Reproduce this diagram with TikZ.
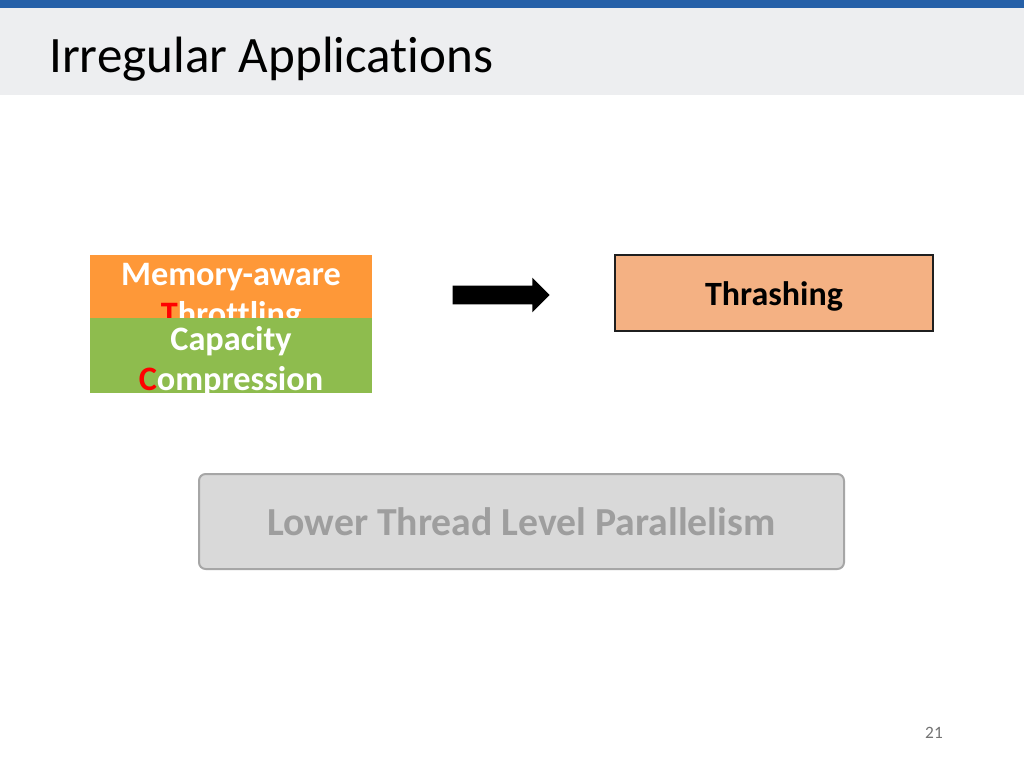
\documentclass[tikz,border=0pt]{standalone}
\usepackage{fontspec}
\setmainfont[Ligatures=NoCommon]{Carlito}
\usetikzlibrary{shapes.arrows}

\definecolor{barblue}{RGB}{37,96,168}
\definecolor{headgray}{RGB}{237,238,240}
\definecolor{memorange}{RGB}{254,152,56}
\definecolor{capgreen}{RGB}{142,188,78}
\definecolor{thrashfill}{RGB}{244,177,131}
\definecolor{tlpfill}{RGB}{217,217,217}
\definecolor{tlpline}{RGB}{166,166,166}
\definecolor{tlptext}{RGB}{158,158,158}

\begin{document}
\begin{tikzpicture}[x=0.75pt,y=-0.75pt,
    techbox/.style={inner sep=0pt, minimum width=211.5pt},
    techtext/.style={text=white, align=center, font=\bfseries\fontsize{25.7}{30}\selectfont}]
    \useasboundingbox (0,0) rectangle (1024,768);

    % slide header
    \fill[white] (0,0) rectangle (1024,768);
    \fill[headgray] (0,8) rectangle (1024,95);
    \fill[barblue] (0,0) rectangle (1024,8);
    \node [anchor=base west, inner sep=0pt, font=\fontsize{38.3}{42}\selectfont] (title) at (49,72) {Irregular Applications};

    % the two techniques, green one lies over the orange one
    \node [techbox, fill=memorange, minimum height=47.25pt] (mem) at (231,286.5) {};
    \node [techtext] (memtext) at (231,297) {Memory-aware\\\textcolor{red}{T}hrottling};
    \node [techbox, fill=capgreen, minimum height=56.25pt] (cap) at (231,355.5) {};
    \node [techtext] (captext) at (231,361) {Capacity\\\textcolor{red}{C}ompression};

    % block arrow
    \node [single arrow, fill=black, inner sep=6.75pt, minimum height=72.75pt, minimum width=25.5pt,
        single arrow head extend=6pt, single arrow head indent=0pt] (arr) at (496.5,295) {};

    \node [draw=black!88, line width=1.5pt, fill=thrashfill, minimum width=238.5pt, minimum height=57pt,
        text height=22pt, text depth=4pt, font=\bfseries\fontsize{25.5}{30}\selectfont] (thrash) at (774,293) {Thrashing};

    \node [draw=tlpline, line width=1.5pt, fill=tlpfill, rounded corners=5pt, minimum width=483.75pt,
        minimum height=71.25pt, text=tlptext, font=\bfseries\fontsize{29.8}{34}\selectfont] (tlp) at (521.5,521.5) {Lower Thread Level Parallelism};

    \node [text=black!55, font=\fontsize{13}{15}\selectfont] (pagenum) at (934,733) {21};
\end{tikzpicture}
\end{document}
